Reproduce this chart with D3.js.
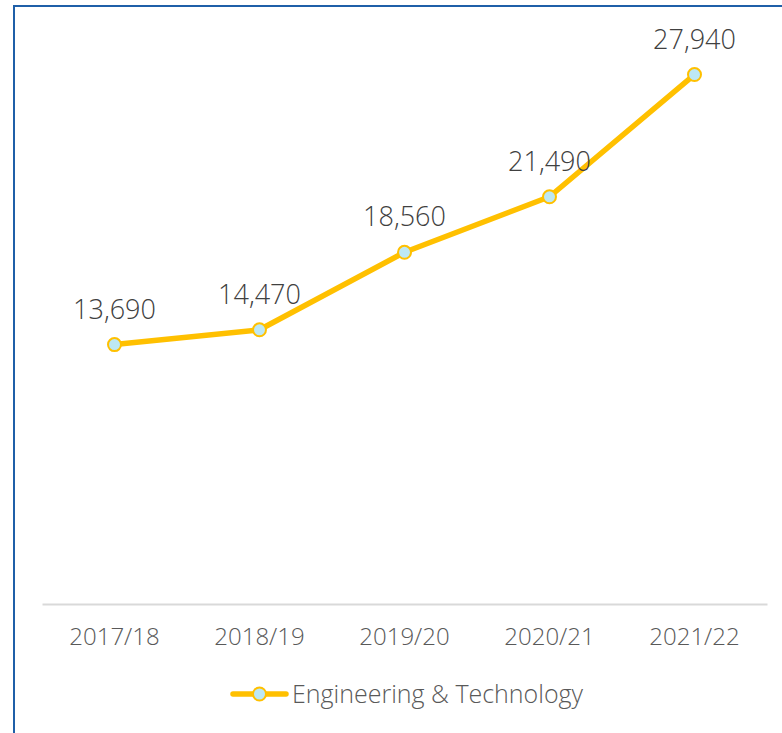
<!DOCTYPE html>
<html>
<head>
<meta charset="utf-8">
<script src="https://cdn.jsdelivr.net/npm/d3@7"></script>
<style>
  body { margin: 0; background: #fff; }
  svg { display: block; font-family: "Open Sans", sans-serif; font-weight: 300; }
</style>
</head>
<body>
<script>
// chart data
const years = ["2017/18", "2018/19", "2019/20", "2020/21", "2021/22"];
const values = [13690, 14470, 18560, 21490, 27940];
const seriesName = "Engineering & Technology";

var w = 782;
var h = 733;

var svg = d3.select("body").append("svg").attr("width", w).attr("height", h);

// frame (top and left border only)
svg.append("line")
  .attr("x1", 13).attr("x2", w).attr("y1", 6).attr("y2", 6)
  .attr("stroke", "#1f5fa8").attr("stroke-width", 2);
svg.append("line")
  .attr("x1", 14).attr("x2", 14).attr("y1", 5).attr("y2", h)
  .attr("stroke", "#1f5fa8").attr("stroke-width", 2);

//scales
var xScale = d3.scaleBand().domain(years).range([42, 767]);
var yScale = d3.scaleLinear().domain([0, 30000]).range([604, 35.5]);

var cx = d => xScale(d) + xScale.bandwidth() / 2;

//x axis
var xAxis = d3.axisBottom(xScale).tickSize(0).tickPadding(24);
var gx = svg.append("g")
  .attr("transform", "translate(0,604)")
  .call(xAxis);
gx.select(".domain").attr("stroke", "#d9d9d9").attr("stroke-width", 2);
gx.selectAll("text")
  .attr("font-size", 24)
  .attr("fill", "#595959")
  .attr("font-family", "Open Sans, sans-serif");

// line
var line = d3.line()
  .x((d, i) => cx(years[i]))
  .y(d => yScale(d));

svg.append("path")
  .datum(values)
  .attr("d", line)
  .attr("fill", "none")
  .attr("stroke", "#ffc000")
  .attr("stroke-width", 5.5)
  .attr("stroke-linejoin", "round");

svg.selectAll("circle.pt")
  .data(values)
  .enter()
  .append("circle")
  .attr("class", "pt")
  .attr("cx", (d, i) => cx(years[i]))
  .attr("cy", d => yScale(d))
  .attr("r", 6.5)
  .attr("fill", "#bde8f4")
  .attr("stroke", "#ffc000")
  .attr("stroke-width", 2);

// data labels
svg.selectAll("text.lbl")
  .data(values)
  .enter()
  .append("text")
  .attr("class", "lbl")
  .attr("x", (d, i) => cx(years[i]))
  .attr("y", d => yScale(d) - 26)
  .attr("text-anchor", "middle")
  .attr("font-size", 27)
  .attr("fill", "#404040")
  .text(d3.format(","));

// legend
var lg = svg.append("g").attr("transform", "translate(0,694)");
lg.append("line")
  .attr("x1", 233).attr("x2", 286)
  .attr("stroke", "#ffc000").attr("stroke-width", 5.5).attr("stroke-linecap", "round");
lg.append("circle")
  .attr("cx", 259.5).attr("r", 6.5)
  .attr("fill", "#bde8f4").attr("stroke", "#ffc000").attr("stroke-width", 2);
lg.append("text")
  .attr("x", 292).attr("dy", "0.35em")
  .attr("font-size", 25)
  .attr("fill", "#595959")
  .text(seriesName);
</script>
</body>
</html>
